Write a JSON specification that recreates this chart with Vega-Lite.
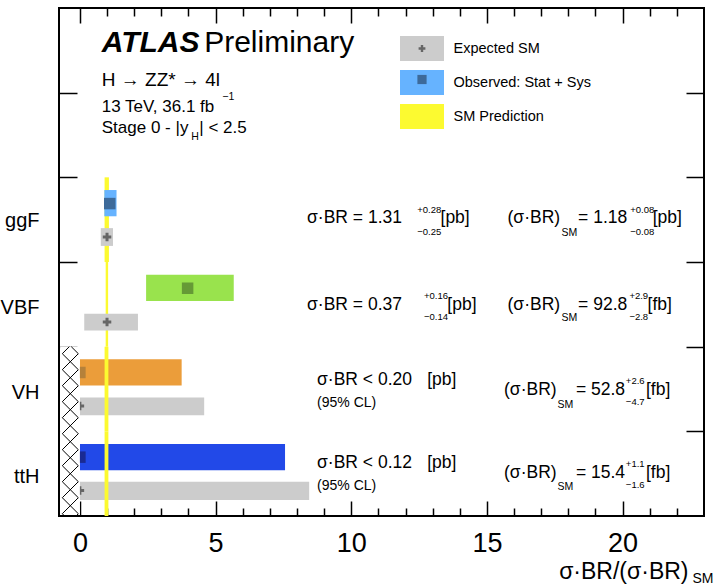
{
  "$schema": "https://vega.github.io/schema/vega-lite/v6.json",
  "width": 645,
  "height": 508,
  "autosize": {"type": "none"},
  "padding": {"left": 59, "top": 8, "right": 17, "bottom": 69},
  "background": "white",
  "config": {
    "view": {"stroke": "black", "strokeWidth": 2},
    "axis": {"domain": false, "grid": false, "tickColor": "black", "tickWidth": 1.5, "labelColor": "black", "labelFont": "Liberation Sans", "titleFont": "Liberation Sans", "titleColor": "black", "titleFontWeight": "normal", "zindex": 1, "labelFlush": false, "labelOverlap": false},
    "text": {"font": "Liberation Sans", "color": "black"}
  },
  "datasets": {
    "yellow": [
      {"cat": "ggF", "x": 0.91, "x2": 1.07, "y": 3, "y2": 4, "kind": "SM Prediction"},
      {"cat": "VBF", "x": 0.95, "x2": 1.04, "y": 2, "y2": 3, "kind": "SM Prediction"},
      {"cat": "VH", "x": 0.91, "x2": 1.05, "y": 1, "y2": 2, "kind": "SM Prediction"},
      {"cat": "ttH", "x": 0.91, "x2": 1.05, "y": 0, "y2": 1, "kind": "SM Prediction"}
    ],
    "expected": [
      {"cat": "ggF", "x": 0.77, "x2": 1.22, "y": 3.19, "y2": 3.40, "kind": "Expected SM"},
      {"cat": "VBF", "x": 0.16, "x2": 2.14, "y": 2.19, "y2": 2.39, "kind": "Expected SM"},
      {"cat": "VH", "x": 0, "x2": 4.58, "y": 1.19, "y2": 1.40, "kind": "Expected SM"},
      {"cat": "ttH", "x": 0, "x2": 8.45, "y": 0.19, "y2": 0.405, "kind": "Expected SM"}
    ],
    "observed": [
      {"cat": "ggF", "x": 0.90, "x2": 1.35, "y": 3.54, "y2": 3.85, "kind": "Observed: Stat + Sys"},
      {"cat": "VBF", "x": 2.44, "x2": 5.67, "y": 2.54, "y2": 2.85, "kind": "obsVBF"},
      {"cat": "VH", "x": 0, "x2": 3.75, "y": 1.54, "y2": 1.85, "kind": "obsVH"},
      {"cat": "ttH", "x": 0, "x2": 7.56, "y": 0.54, "y2": 0.85, "kind": "obsttH"}
    ],
    "markers": [
      {"cat": "ggF", "x": 1.0, "y": 3.295, "mk": "exp"},
      {"cat": "VBF", "x": 1.0, "y": 2.29, "mk": "exp"},
      {"cat": "VH", "x": 0, "y": 1.30, "mk": "exp"},
      {"cat": "ttH", "x": 0, "y": 0.30, "mk": "exp"},
      {"cat": "ggF", "x": 1.1, "y": 3.69, "mk": "obsggF"},
      {"cat": "VBF", "x": 3.97, "y": 2.69, "mk": "obsVBF"},
      {"cat": "VH", "x": 0, "y": 1.695, "mk": "obsVH"},
      {"cat": "ttH", "x": 0, "y": 0.695, "mk": "obsttH"}
    ],
    "hatchbg": [
      {"x": -0.73, "x2": 0, "y": 0.012, "y2": 2}
    ],
    "hatch": [
      {"line": "A", "o": 0, "x": -0.39, "y": 2.0},
      {"line": "A", "o": 1, "x": -0.648, "y": 1.917},
      {"line": "A", "o": 2, "x": -0.058, "y": 1.728},
      {"line": "A", "o": 3, "x": -0.648, "y": 1.539},
      {"line": "A", "o": 4, "x": -0.058, "y": 1.350},
      {"line": "A", "o": 5, "x": -0.648, "y": 1.161},
      {"line": "A", "o": 6, "x": -0.058, "y": 0.972},
      {"line": "A", "o": 7, "x": -0.648, "y": 0.783},
      {"line": "A", "o": 8, "x": -0.058, "y": 0.594},
      {"line": "A", "o": 9, "x": -0.648, "y": 0.405},
      {"line": "A", "o": 10, "x": -0.058, "y": 0.216},
      {"line": "A", "o": 11, "x": -0.648, "y": 0.027},
      {"line": "A", "o": 12, "x": -0.566, "y": 0.0},
      {"line": "B", "o": 0, "x": -0.318, "y": 2.0},
      {"line": "B", "o": 1, "x": -0.058, "y": 1.917},
      {"line": "B", "o": 2, "x": -0.648, "y": 1.728},
      {"line": "B", "o": 3, "x": -0.058, "y": 1.539},
      {"line": "B", "o": 4, "x": -0.648, "y": 1.350},
      {"line": "B", "o": 5, "x": -0.058, "y": 1.161},
      {"line": "B", "o": 6, "x": -0.648, "y": 0.972},
      {"line": "B", "o": 7, "x": -0.058, "y": 0.783},
      {"line": "B", "o": 8, "x": -0.648, "y": 0.594},
      {"line": "B", "o": 9, "x": -0.058, "y": 0.405},
      {"line": "B", "o": 10, "x": -0.648, "y": 0.216},
      {"line": "B", "o": 11, "x": -0.058, "y": 0.027},
      {"line": "B", "o": 12, "x": -0.14, "y": 0.0}
    ],
    "texts": [
      {"role": "main", "t": "σ·BR = 1.31", "x": 8.37, "y": 3.516},
      {"role": "main", "t": "[pb]", "x": 13.29, "y": 3.516},
      {"role": "main", "t": "(σ·BR)", "x": 15.76, "y": 3.516},
      {"role": "main", "t": "= 1.18", "x": 18.36, "y": 3.516},
      {"role": "main", "t": "[pb]", "x": 21.11, "y": 3.516},
      {"role": "main", "t": "σ·BR = 0.37", "x": 8.37, "y": 2.492},
      {"role": "main", "t": "[pb]", "x": 13.54, "y": 2.492},
      {"role": "main", "t": "(σ·BR)", "x": 15.76, "y": 2.492},
      {"role": "main", "t": "= 92.8", "x": 18.36, "y": 2.492},
      {"role": "main", "t": "[fb]", "x": 20.92, "y": 2.492},
      {"role": "main", "t": "σ·BR < 0.20", "x": 8.74, "y": 1.606},
      {"role": "main", "t": "[pb]", "x": 12.80, "y": 1.606},
      {"role": "main", "t": "(σ·BR)", "x": 15.63, "y": 1.488},
      {"role": "main", "t": "= 52.8", "x": 18.28, "y": 1.488},
      {"role": "main", "t": "[fb]", "x": 20.86, "y": 1.488},
      {"role": "main", "t": "σ·BR < 0.12", "x": 8.74, "y": 0.622},
      {"role": "main", "t": "[pb]", "x": 12.80, "y": 0.622},
      {"role": "main", "t": "(σ·BR)", "x": 15.63, "y": 0.504},
      {"role": "main", "t": "= 15.4", "x": 18.28, "y": 0.504},
      {"role": "main", "t": "[fb]", "x": 20.86, "y": 0.504},
      {"role": "cl", "t": "(95% CL)", "x": 8.74, "y": 1.338},
      {"role": "cl", "t": "(95% CL)", "x": 8.74, "y": 0.354},
      {"role": "script", "t": "+0.28", "x": 12.43, "y": 3.614},
      {"role": "script", "t": "−0.25", "x": 12.43, "y": 3.351},
      {"role": "script", "t": "+0.08", "x": 20.28, "y": 3.614},
      {"role": "script", "t": "−0.08", "x": 20.28, "y": 3.351},
      {"role": "script", "t": "+0.16", "x": 12.68, "y": 2.598},
      {"role": "script", "t": "−0.14", "x": 12.68, "y": 2.354},
      {"role": "script", "t": "+2.9", "x": 20.25, "y": 2.598},
      {"role": "script", "t": "−2.8", "x": 20.25, "y": 2.354},
      {"role": "script", "t": "+2.6", "x": 20.12, "y": 1.598},
      {"role": "script", "t": "−4.7", "x": 20.12, "y": 1.350},
      {"role": "script", "t": "+1.1", "x": 20.12, "y": 0.614},
      {"role": "script", "t": "−1.6", "x": 20.12, "y": 0.366},
      {"role": "sm", "t": "SM", "x": 17.75, "y": 3.342},
      {"role": "sm", "t": "SM", "x": 17.75, "y": 2.339},
      {"role": "sm", "t": "SM", "x": 17.60, "y": 1.311},
      {"role": "sm", "t": "SM", "x": 17.60, "y": 0.346},
      {"role": "atlas", "t": "ATLAS", "x": 0.806, "y": 5.583},
      {"role": "prelim", "t": "Preliminary", "x": 4.58, "y": 5.583},
      {"role": "channel", "t": "H → ZZ* → 4l", "x": 0.806, "y": 5.149},
      {"role": "info", "t": "13 TeV, 36.1 fb", "x": 0.806, "y": 4.834},
      {"role": "info", "t": "Stage 0 - |y", "x": 0.806, "y": 4.586},
      {"role": "info", "t": "| < 2.5", "x": 4.40, "y": 4.586},
      {"role": "infoscript", "t": "−1", "x": 5.25, "y": 4.953},
      {"role": "infoscript", "t": "H", "x": 4.10, "y": 4.48}
    ]
  },
  "resolve": {"axis": {"x": "independent", "y": "independent"}},
  "layer": [
    {
      "data": {"name": "yellow"},
      "transform": [{"filter": "datum.cat == 'ggF' || datum.cat == 'VBF'"}],
      "mark": {"type": "rect"},
      "encoding": {
        "x": {"field": "x", "type": "quantitative", "scale": {"domain": [-0.77, 23], "nice": false, "zero": false},
          "axis": {"orient": "bottom", "values": [0, 5, 10, 15, 20], "tickSize": -15, "labelPadding": 29, "labelFontSize": 27, "title": "σ·BR/(σ·BR)", "titleFontSize": 23, "titleX": 629, "titleY": 55, "titleAlign": "right", "titleBaseline": "middle"}},
        "x2": {"field": "x2"},
        "y": {"field": "y", "type": "quantitative", "scale": {"domain": [0, 6], "nice": false, "zero": false},
          "axis": {"orient": "left", "values": [3.49, 2.46, 1.455, 0.47], "labelExpr": "datum.value > 3 ? 'ggF' : datum.value > 2 ? 'VBF' : datum.value > 1 ? 'VH' : 'ttH'", "ticks": false, "tickSize": 0, "labelPadding": 20, "labelFontSize": 20, "title": null}},
        "y2": {"field": "y2"},
        "fill": {"field": "kind", "type": "nominal",
          "scale": {"domain": ["Expected SM", "Observed: Stat + Sys", "SM Prediction", "obsVBF", "obsVH", "obsttH"], "range": ["#cccccc", "#66b3ff", "#fcfa30", "#99e34d", "#eb9d3a", "#2249e8"]},
          "legend": {"values": ["Expected SM", "Observed: Stat + Sys", "SM Prediction"], "orient": "none", "legendX": 341, "legendY": 28, "direction": "vertical", "title": null, "symbolType": "M-1.76,-1H1.76V1H-1.76Z", "symbolSize": 625, "symbolStrokeWidth": 0, "symbolOpacity": 1, "symbolOffset": 9.5, "labelOffset": 19, "labelFontSize": 14.5, "labelFont": "Liberation Sans", "labelColor": "black", "labelLimit": 300, "rowPadding": 9, "padding": 0}}
      }
    },
    {
      "data": {"name": "expected"},
      "mark": {"type": "rect"},
      "encoding": {
        "x": {"field": "x", "type": "quantitative", "scale": {"domain": [-0.77, 23], "nice": false, "zero": false},
          "axis": {"orient": "bottom", "values": [1, 2, 3, 4, 6, 7, 8, 9, 11, 12, 13, 14, 16, 17, 18, 19, 21, 22], "tickSize": -8, "labels": false, "title": "SM", "titleFontSize": 14, "titleX": 633, "titleY": 62, "titleAlign": "left", "titleBaseline": "middle"}},
        "x2": {"field": "x2"},
        "y": {"field": "y", "type": "quantitative", "scale": {"domain": [0, 6], "nice": false, "zero": false},
          "axis": {"orient": "left", "values": [1, 2, 3, 4, 5], "tickSize": -18, "labels": false, "title": null}},
        "y2": {"field": "y2"},
        "fill": {"field": "kind", "type": "nominal"}
      }
    },
    {
      "data": {"name": "observed"},
      "mark": {"type": "rect"},
      "encoding": {
        "x": {"field": "x", "type": "quantitative", "scale": {"domain": [-0.77, 23], "nice": false, "zero": false},
          "axis": {"orient": "top", "values": [0, 5, 10, 15, 20], "tickSize": -15, "labels": false, "title": null}},
        "x2": {"field": "x2"},
        "y": {"field": "y", "type": "quantitative", "scale": {"domain": [0, 6], "nice": false, "zero": false},
          "axis": {"orient": "right", "values": [1, 2, 3, 4, 5], "tickSize": -18, "labels": false, "title": null}},
        "y2": {"field": "y2"},
        "fill": {"field": "kind", "type": "nominal"}
      }
    },
    {
      "data": {"name": "yellow"},
      "transform": [{"filter": "datum.cat == 'VH' || datum.cat == 'ttH'"}],
      "mark": {"type": "rect"},
      "encoding": {
        "x": {"field": "x", "type": "quantitative", "axis": null},
        "x2": {"field": "x2"},
        "y": {"field": "y", "type": "quantitative", "axis": null},
        "y2": {"field": "y2"},
        "fill": {"field": "kind", "type": "nominal"}
      }
    },
    {
      "data": {"name": "markers"},
      "mark": {"type": "point", "filled": true, "opacity": 1, "strokeWidth": 0},
      "encoding": {
        "x": {"field": "x", "type": "quantitative", "scale": {"domain": [-0.77, 23], "nice": false, "zero": false},
          "axis": {"orient": "top", "values": [1, 2, 3, 4, 6, 7, 8, 9, 11, 12, 13, 14, 16, 17, 18, 19, 21, 22], "tickSize": -8, "labels": false, "title": null}},
        "y": {"field": "y", "type": "quantitative", "axis": null},
        "size": {"value": 625},
        "color": {"field": "mk", "type": "nominal",
          "scale": {"domain": ["exp", "obsggF", "obsVBF", "obsVH", "obsttH"], "range": ["#666666", "#3d6a9a", "#669a36", "#b5813a", "#1a2a93"]},
          "legend": {"values": ["exp", "obsggF"], "orient": "none", "legendX": 341, "legendY": 30.5, "direction": "vertical", "title": null, "symbolSize": 400, "symbolStrokeWidth": 0, "symbolOpacity": 1, "symbolOffset": 12, "labelOffset": 19, "labelFontSize": 14, "labelExpr": "''", "rowPadding": 14, "padding": 0}},
        "shape": {"field": "mk", "type": "nominal",
          "scale": {"domain": ["exp", "obsggF", "obsVBF", "obsVH", "obsttH"], "range": ["M-0.34,-0.12H-0.12V-0.34H0.12V-0.12H0.34V0.12H0.12V0.34H-0.12V0.12H-0.34Z", "M-0.46,-0.46H0.46V0.46H-0.46Z", "M-0.46,-0.46H0.46V0.46H-0.46Z", "M-0.46,-0.46H0.46V0.46H-0.46Z", "M-0.46,-0.46H0.46V0.46H-0.46Z"]},
          "legend": {"values": ["exp", "obsggF"], "orient": "none", "legendX": 341, "legendY": 30.5, "direction": "vertical", "title": null, "symbolSize": 400, "symbolStrokeWidth": 0, "symbolOpacity": 1, "symbolOffset": 12, "labelOffset": 19, "labelFontSize": 14, "labelExpr": "''", "rowPadding": 14, "padding": 0}}
      }
    },
    {
      "data": {"name": "hatchbg"},
      "mark": {"type": "rect", "color": "white"},
      "encoding": {
        "x": {"field": "x", "type": "quantitative", "axis": null},
        "x2": {"field": "x2"},
        "y": {"field": "y", "type": "quantitative", "axis": null},
        "y2": {"field": "y2"}
      }
    },
    {
      "data": {"name": "hatch"},
      "mark": {"type": "line", "color": "black", "strokeWidth": 1},
      "encoding": {
        "x": {"field": "x", "type": "quantitative", "axis": null},
        "y": {"field": "y", "type": "quantitative", "axis": null},
        "detail": {"field": "line", "type": "nominal"},
        "order": {"field": "o", "type": "quantitative"}
      }
    },
    {
      "data": {"name": "texts"},
      "transform": [{"filter": "datum.role == 'main'"}],
      "mark": {"type": "text", "fontSize": 17.5, "align": "left", "baseline": "middle"},
      "encoding": {
        "x": {"field": "x", "type": "quantitative", "axis": null},
        "y": {"field": "y", "type": "quantitative", "axis": null},
        "text": {"field": "t"}
      }
    },
    {
      "data": {"name": "texts"},
      "transform": [{"filter": "datum.role == 'cl'"}],
      "mark": {"type": "text", "fontSize": 14, "align": "left", "baseline": "middle"},
      "encoding": {
        "x": {"field": "x", "type": "quantitative", "axis": null},
        "y": {"field": "y", "type": "quantitative", "axis": null},
        "text": {"field": "t"}
      }
    },
    {
      "data": {"name": "texts"},
      "transform": [{"filter": "datum.role == 'script'"}],
      "mark": {"type": "text", "fontSize": 9.5, "align": "left", "baseline": "middle"},
      "encoding": {
        "x": {"field": "x", "type": "quantitative", "axis": null},
        "y": {"field": "y", "type": "quantitative", "axis": null},
        "text": {"field": "t"}
      }
    },
    {
      "data": {"name": "texts"},
      "transform": [{"filter": "datum.role == 'sm' || datum.role == 'infoscript'"}],
      "mark": {"type": "text", "fontSize": 10.5, "align": "left", "baseline": "middle"},
      "encoding": {
        "x": {"field": "x", "type": "quantitative", "axis": null},
        "y": {"field": "y", "type": "quantitative", "axis": null},
        "text": {"field": "t"}
      }
    },
    {
      "data": {"name": "texts"},
      "transform": [{"filter": "datum.role == 'atlas'"}],
      "mark": {"type": "text", "fontSize": 30, "fontWeight": "bold", "fontStyle": "italic", "align": "left", "baseline": "middle"},
      "encoding": {
        "x": {"field": "x", "type": "quantitative", "axis": null},
        "y": {"field": "y", "type": "quantitative", "axis": null},
        "text": {"field": "t"}
      }
    },
    {
      "data": {"name": "texts"},
      "transform": [{"filter": "datum.role == 'prelim'"}],
      "mark": {"type": "text", "fontSize": 30, "align": "left", "baseline": "middle"},
      "encoding": {
        "x": {"field": "x", "type": "quantitative", "axis": null},
        "y": {"field": "y", "type": "quantitative", "axis": null},
        "text": {"field": "t"}
      }
    },
    {
      "data": {"name": "texts"},
      "transform": [{"filter": "datum.role == 'channel'"}],
      "mark": {"type": "text", "fontSize": 19, "align": "left", "baseline": "middle"},
      "encoding": {
        "x": {"field": "x", "type": "quantitative", "axis": null},
        "y": {"field": "y", "type": "quantitative", "axis": null},
        "text": {"field": "t"}
      }
    },
    {
      "data": {"name": "texts"},
      "transform": [{"filter": "datum.role == 'info'"}],
      "mark": {"type": "text", "fontSize": 17, "align": "left", "baseline": "middle"},
      "encoding": {
        "x": {"field": "x", "type": "quantitative", "axis": null},
        "y": {"field": "y", "type": "quantitative", "axis": null},
        "text": {"field": "t"}
      }
    }
  ]
}
